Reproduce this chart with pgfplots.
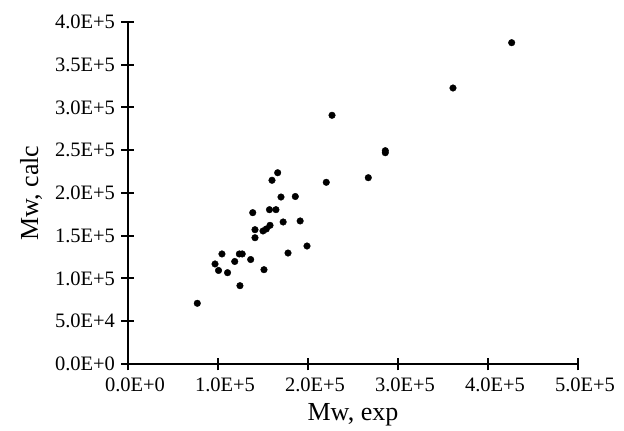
\documentclass[border=0pt]{standalone}
\usepackage{fontspec}
\setmainfont{Liberation Serif}
\usepackage{pgfplots}
\pgfplotsset{compat=1.18}

\begin{document}
\begin{tikzpicture}
\begin{axis}[
    scale only axis,
    width=450pt, height=342pt,
    xmin=0, xmax=500000,
    ymin=0, ymax=400000,
    axis x line*=bottom, axis y line*=left,
    axis line style={line width=2pt},
    tick align=center,
    major tick length=13pt,
    tick style={line width=2pt, black},
    xtick={0,100000,200000,300000,400000,500000},
    ytick={0,50000,100000,150000,200000,250000,300000,350000,400000},
    xticklabels={0.0E+0,1.0E+5,2.0E+5,3.0E+5,4.0E+5,5.0E+5},
    yticklabels={0.0E+0,5.0E+4,1.0E+5,1.5E+5,2.0E+5,2.5E+5,3.0E+5,3.5E+5,4.0E+5},
    tick label style={font=\fontsize{20.5}{23}\selectfont},
    xticklabel style={xshift=7pt, yshift=-4pt},
    yticklabel style={xshift=-3pt},
    xlabel={Mw, exp},
    ylabel={Mw, calc},
    label style={font=\fontsize{26}{29}\selectfont},
    xlabel style={yshift=-5pt},
    ylabel style={yshift=6pt},
    scaled ticks=false,
    clip=false,
]
% Mw exp vs Mw calc
\addplot[only marks, mark=*, mark size=3.3pt, black] coordinates {
    (426300,375800) (361100,322800) (226700,290900) (285900,249500)
    (285900,247100) (267000,217900) (220300,212500) (166300,223700)
    (160000,214900) (170000,195300) (185900,195900) (138600,177000)
    (157200,180500) (164400,180500) (172400,166100) (191300,167300)
    (141100,157100) (150000,155600) (153700,157900) (157800,162200)
    (141100,147700) (198900,138000) (177800,129800) (104400,128700)
    (123700,128700) (126900,128700) (118600,119900) (136300,122200)
    (96700,117000) (100600,109400) (110600,106800) (151100,110300)
    (124400,91600) (77000,71000)
};
\end{axis}
\pgfresetboundingbox
\path[use as bounding box] (current axis.south west) ++(-128pt,-67pt) rectangle ++(624pt,431pt);
\end{tikzpicture}
\end{document}
